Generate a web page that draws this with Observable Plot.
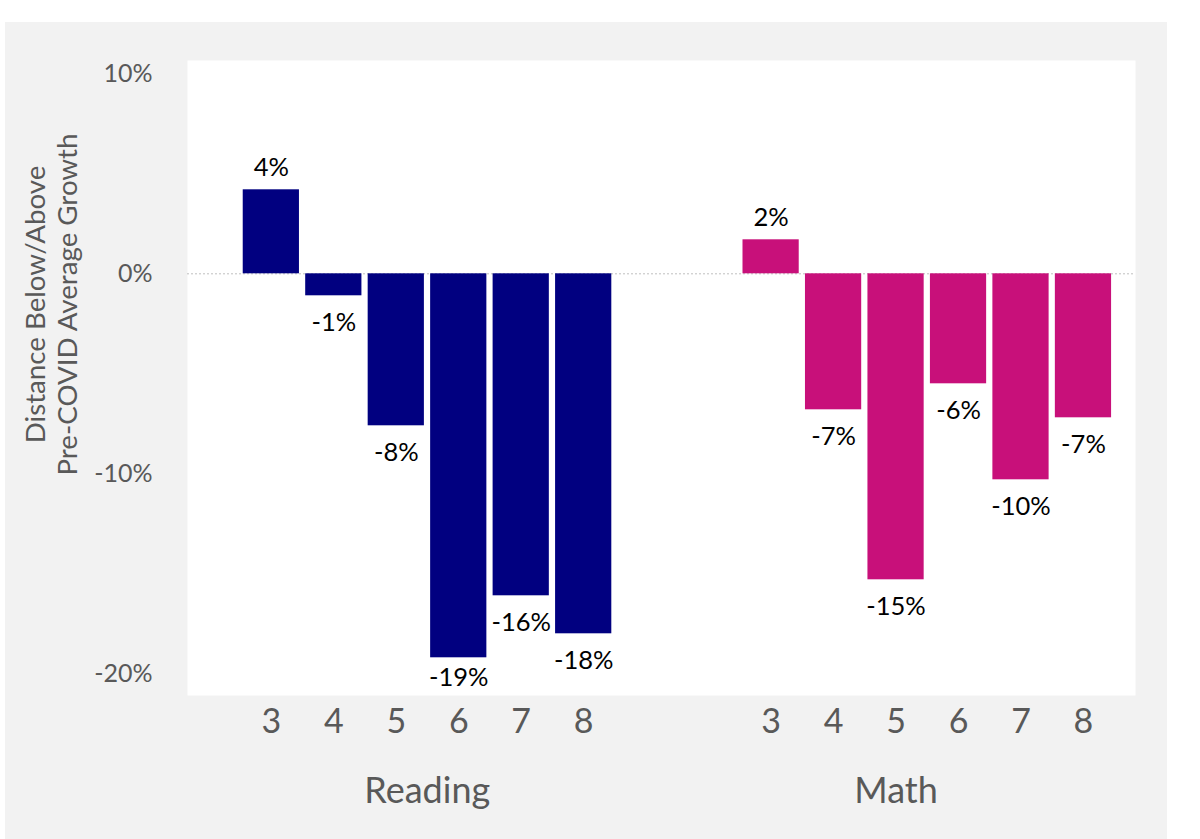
<!DOCTYPE html>
<html><head><meta charset="utf-8">
<script src="https://cdn.jsdelivr.net/npm/d3@7"></script>
<script src="https://cdn.jsdelivr.net/npm/@observablehq/plot@0.6"></script>
<style>
html,body{margin:0;padding:0;background:#fff;}
#wrap{position:relative;width:1200px;height:839px;overflow:hidden;}
#panel{position:absolute;left:5px;top:22px;width:1162px;height:817px;background:#f2f2f2;}
#chart{position:absolute;left:0;top:0;}
</style></head><body>
<div id="wrap"><div id="panel"></div><div id="chart"></div></div>
<script>
const subjects = ["Reading", "Math"];
const grades = ["3", "4", "5", "6", "7", "8"];
const readingValues = [4.2, -1.1, -7.6, -19.2, -16.1, -18.0];
const mathValues = [1.7, -6.8, -15.3, -5.5, -10.3, -7.2];
const readingLabels = ["4%", "-1%", "-8%", "-19%", "-16%", "-18%"];
const mathLabels = ["2%", "-7%", "-15%", "-6%", "-10%", "-7%"];
const yTicks = [10, 0, -10, -20];
const yLabel = "Distance Below/Above\nPre-COVID Average Growth";
const subjectColors = ["#010080", "#C8107A"];

const rows = [];
grades.forEach((g, i) => rows.push({subject: "Reading", grade: g, key: "Reading-" + g, value: readingValues[i], label: readingLabels[i]}));
grades.forEach((g, i) => rows.push({subject: "Math", grade: g, key: "Math-" + g, value: mathValues[i], label: mathLabels[i]}));
const readingKeys = grades.map(g => "Reading-" + g);
const mathKeys = grades.map(g => "Math-" + g);
const xDomain = [...readingKeys, "gap-1", "gap-2", ...mathKeys];
const realKeys = [...readingKeys, ...mathKeys];

const W = 1200, H = 839;
const mL = 187, mR = 65, mT = 60, mB = 144;
const yDomain = [-21.085, 10.665];
const pxPerUnit = (H - mT - mB) / (yDomain[1] - yDomain[0]);
const labelFloor = yDomain[0] + 45 / pxPerUnit;
const font = "Lato, 'Noto Sans', sans-serif";
const grey = "#595959";

const chart = Plot.plot({
  width: W, height: H,
  marginLeft: mL, marginRight: mR, marginTop: mT, marginBottom: mB,
  style: {fontFamily: font, background: "transparent", overflow: "visible"},
  x: {type: "band", domain: xDomain, range: [239.6, 1114.2], paddingInner: 0.1, paddingOuter: 0.05, align: 0.5, round: false},
  y: {domain: yDomain},
  color: {domain: subjects, range: subjectColors},
  marks: [
    Plot.frame({fill: "white", stroke: null}),
    Plot.ruleY([0], {stroke: "#bfbfbf", strokeDasharray: "2,2", strokeWidth: 1}),
    Plot.barY(rows, {x: "key", y: "value", fill: "subject"}),
    Plot.text(rows.filter(d => d.value >= 0), {x: "key", y: "value", text: "label", lineAnchor: "bottom", dy: -14, fontSize: 25.5, fill: "#000", fontFamily: font}),
    Plot.text(rows.filter(d => d.value < 0), {x: "key", y: d => Math.max(d.value, labelFloor), text: "label", lineAnchor: "top", dy: 17, fontSize: 25.5, fill: "#000", fontFamily: font}),
    Plot.axisX(realKeys, {tickFormat: k => k.split("-")[1], tickSize: 0, tickPadding: 13, fontSize: 34, color: grey, label: null, fontFamily: font}),
    Plot.axisY(yTicks, {tickFormat: d => `${d}%`, tickSize: 0, tickPadding: 35, fontSize: 25, color: grey, label: null, fontFamily: font}),
    Plot.text([subjects[0]], {x: [readingKeys[2]], text: d => d, frameAnchor: "bottom", lineAnchor: "bottom", dy: 107, dx: 31, fontSize: 36, fill: grey, fontFamily: font}),
    Plot.text([subjects[1]], {x: [mathKeys[2]], text: d => d, frameAnchor: "bottom", lineAnchor: "bottom", dy: 107, dx: 0, fontSize: 36, fill: grey, fontFamily: font}),
    Plot.text([yLabel], {text: d => d, frameAnchor: "left", rotate: -90, textAnchor: "middle", lineAnchor: "middle", lineHeight: 1.17, dx: -137, dy: -73.5, fontSize: 27.7, fill: grey, fontFamily: font})
  ]
});
document.getElementById("chart").appendChild(chart);
</script>
</body></html>
